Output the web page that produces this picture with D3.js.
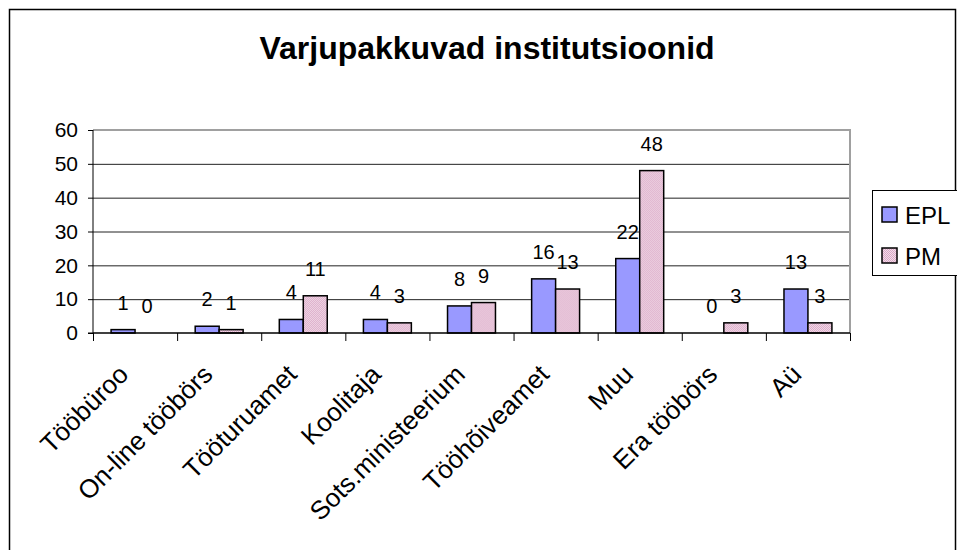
<!DOCTYPE html>
<html>
<head>
<meta charset="utf-8">
<script src="https://cdn.jsdelivr.net/npm/d3@7"></script>
<style>
  body { margin: 0; background: #fff; }
  svg { display: block; font-family: Arial, "Liberation Sans", sans-serif; }
</style>
</head>
<body>
<div id="chart"></div>
<script>
// chart data
const categories = ["Tööbüroo", "On-line tööbörs", "Tööturuamet", "Koolitaja",
    "Sots.ministeerium", "Tööhõiveamet", "Muu", "Era tööbörs", "Aü"];
const series_names = ["EPL", "PM"];
const epl_values = [1, 2, 4, 4, 8, 16, 22, 0, 13];
const pm_values = [0, 1, 11, 3, 9, 13, 48, 3, 3];
const y_ticks = [0, 10, 20, 30, 40, 50, 60];

const width = 957, height = 550;
const plot = {left: 93, right: 850, top: 130, bottom: 333};

const svg = d3.select("#chart")
    .append("svg")
        .attr("width", width)
        .attr("height", height);

// pink dotted fill like the excel pattern
const defs = svg.append("defs");
const pat = defs.append("pattern")
    .attr("id", "pinkpat")
    .attr("width", 2).attr("height", 2)
    .attr("patternUnits", "userSpaceOnUse");
pat.append("rect").attr("width", 2).attr("height", 2).attr("fill", "#f3dde9");
pat.append("rect").attr("width", 1).attr("height", 1).attr("fill", "#d9a7c6");
pat.append("rect").attr("x", 1).attr("y", 1).attr("width", 1).attr("height", 1).attr("fill", "#d9a7c6");

const colors = {EPL: "#9999ff", PM: "url(#pinkpat)"};

// outer frame
svg.append("rect")
    .attr("x", 9.5).attr("y", 9.5)
    .attr("width", 946).attr("height", 560)
    .attr("fill", "none")
    .attr("stroke", "#000")
    .attr("stroke-width", 1.5);

svg.append("text")
    .attr("x", 487).attr("y", 59)
    .attr("text-anchor", "middle")
    .style("font-size", "32px")
    .style("font-weight", "bold")
    .text("Varjupakkuvad institutsioonid");

const x = d3.scaleBand()
    .domain(categories)
    .range([plot.left, plot.right]);

const bar_w = x.bandwidth() * 0.285;
const x_inner = d3.scaleBand()
    .domain(series_names)
    .range([x.bandwidth() / 2 - bar_w, x.bandwidth() / 2 + bar_w]);

const y = d3.scaleLinear()
    .domain([0, 60])
    .range([plot.bottom, plot.top]);

// gridlines
svg.append("g")
    .selectAll("line")
        .data(y_ticks.filter((d) => d > 0 && d < 60))
    .enter()
        .append("line")
        .attr("x1", plot.left).attr("x2", plot.right)
        .attr("y1", (d) => y(d) + 0.5).attr("y2", (d) => y(d) + 0.5)
        .attr("stroke", "#222")
        .attr("stroke-width", 1);

// plot border top and right, gray
svg.append("path")
    .attr("d", `M${plot.left},${plot.top} H${plot.right} V${plot.bottom}`)
    .attr("fill", "none")
    .attr("stroke", "#a0a0a0")
    .attr("stroke-width", 2);

// bars
const rows = categories.map((c, i) => ({cat: c, values: [
    {name: "EPL", value: epl_values[i]},
    {name: "PM", value: pm_values[i]}
]}));

const groups = svg.append("g")
    .selectAll("g")
        .data(rows)
    .enter()
        .append("g")
        .attr("transform", (d) => `translate(${x(d.cat)},0)`);

groups.selectAll("rect")
        .data((d) => d.values.filter((v) => v.value > 0))
    .enter()
        .append("rect")
        .attr("x", (d) => x_inner(d.name))
        .attr("y", (d) => y(d.value))
        .attr("width", x_inner.bandwidth())
        .attr("height", (d) => y(0) - y(d.value))
        .attr("fill", (d) => colors[d.name])
        .attr("stroke", "#000")
        .attr("stroke-width", 1.5);

// data labels
groups.selectAll("text")
        .data((d) => d.values)
    .enter()
        .append("text")
        .attr("x", (d) => x_inner(d.name) + x_inner.bandwidth() / 2)
        .attr("y", (d) => y(d.value) - 20)
        .attr("text-anchor", "middle")
        .style("font-size", "20px")
        .text((d) => d.value);

// y axis
const y_axis = svg.append("g")
    .attr("transform", `translate(${plot.left},0)`)
    .call(d3.axisLeft(y).tickValues(y_ticks).tickSize(5).tickPadding(10));
y_axis.selectAll("text").style("font-size", "21px").attr("fill", "#000");
y_axis.selectAll("line").attr("stroke", "#000");
y_axis.select(".domain").attr("stroke", "#000").attr("d", `M-5,${plot.bottom}H0V${plot.top}`);

// x axis
const x_axis = svg.append("g")
    .attr("transform", `translate(0,${plot.bottom})`)
    .call(d3.axisBottom(x).tickSize(0).tickFormat(""));
x_axis.select(".domain").attr("stroke", "#000").attr("stroke-width", 1.5)
    .attr("d", `M${plot.left},0H${plot.right}`);
x_axis.selectAll(".tick").remove();

// category separators (ticks between groups)
svg.append("g")
    .selectAll("line")
        .data(categories.map((c) => x(c)).concat([plot.right]))
    .enter()
        .append("line")
        .attr("x1", (d) => d + 0.5).attr("x2", (d) => d + 0.5)
        .attr("y1", plot.bottom).attr("y2", plot.bottom + 8)
        .attr("stroke", "#000");

// rotated category labels
svg.append("g")
    .selectAll("text")
        .data(categories)
    .enter()
        .append("text")
        .attr("transform", (d) => `translate(${x(d) + x.bandwidth() / 2 - 5},${plot.bottom + 43}) rotate(-45)`)
        .attr("text-anchor", "end")
        .style("font-size", "26px")
        .text((d) => d);

// legend
const legend = svg.append("g");
legend.append("rect")
    .attr("x", 872.5).attr("y", 190.5)
    .attr("width", 90).attr("height", 85)
    .attr("fill", "#fff")
    .attr("stroke", "#000");
const leg_items = legend.selectAll("g")
        .data(series_names)
    .enter()
        .append("g")
        .attr("transform", (d, i) => `translate(882,${207 + i * 41})`);
leg_items.append("rect")
    .attr("width", 15).attr("height", 15)
    .attr("fill", (d) => colors[d])
    .attr("stroke", "#000")
    .attr("stroke-width", 1.5);
leg_items.append("text")
    .attr("x", 23).attr("y", 17)
    .style("font-size", "24px")
    .text((d) => d);
</script>
</body>
</html>
